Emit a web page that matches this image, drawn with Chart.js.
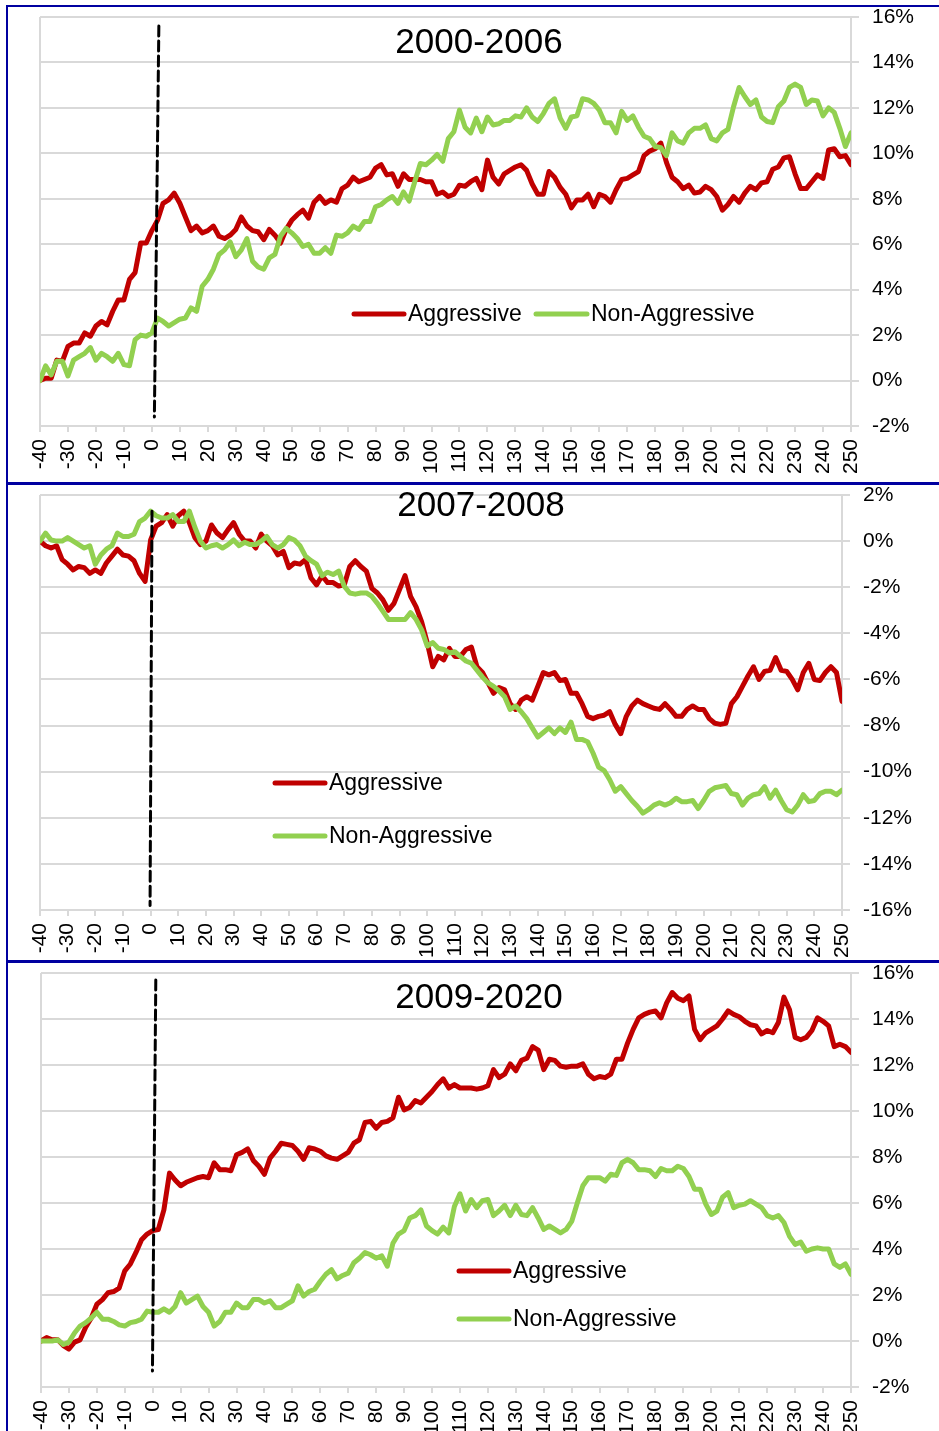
<!DOCTYPE html>
<html>
<head>
<meta charset="utf-8">
<script src="https://cdn.jsdelivr.net/npm/chart.js@4.4.1/dist/chart.umd.min.js"></script>
<style>
  body { margin: 0; background: #fff; }
  #page { position: relative; width: 939px; height: 1431px; overflow: hidden; background: #fff; }
  canvas { position: absolute; left: 0; }
  .frame { position: absolute; background: #0000a0; z-index: 5; }
</style>
</head>
<body>
<div id="page">
  <canvas id="c1" width="939" height="482" style="top:0px"></canvas>
  <canvas id="c2" width="939" height="490" style="top:470px"></canvas>
  <canvas id="c3" width="939" height="483" style="top:948px"></canvas>
  <div class="frame" style="left:6px;top:5px;width:2px;height:1426px"></div>
  <div class="frame" style="left:6px;top:5px;width:933px;height:2px"></div>
  <div class="frame" style="left:6px;top:482px;width:933px;height:3px"></div>
  <div class="frame" style="left:6px;top:960px;width:933px;height:3px"></div>
</div>
<script>
// days relative to the event (every 2nd day)
const days = [-40, -38, -36, -34, -32, -30, -28, -26, -24, -22, -20, -18, -16, -14, -12, -10, -8, -6, -4, -2,
  0, 2, 4, 6, 8, 10, 12, 14, 16, 18, 20, 22, 24, 26, 28, 30, 32, 34, 36, 38,
  40, 42, 44, 46, 48, 50, 52, 54, 56, 58, 60, 62, 64, 66, 68, 70, 72, 74, 76, 78,
  80, 82, 84, 86, 88, 90, 92, 94, 96, 98, 100, 102, 104, 106, 108, 110, 112, 114, 116, 118,
  120, 122, 124, 126, 128, 130, 132, 134, 136, 138, 140, 142, 144, 146, 148, 150, 152, 154, 156, 158,
  160, 162, 164, 166, 168, 170, 172, 174, 176, 178, 180, 182, 184, 186, 188, 190, 192, 194, 196, 198,
  200, 202, 204, 206, 208, 210, 212, 214, 216, 218, 220, 222, 224, 226, 228, 230, 232, 234, 236, 238,
  240, 242, 244, 246, 248, 250];

// 2000-2006
const agg0006 = [0, 0.1, 0.1, 0.9, 0.85, 1.5, 1.65, 1.65, 2.1, 1.95, 2.4, 2.6, 2.45, 3.05, 3.55, 3.55, 4.45, 4.75, 6.05, 6.05,
  6.6, 7.05, 7.8, 7.95, 8.25, 7.8, 7.2, 6.6, 6.8, 6.5, 6.6, 6.8, 6.35, 6.25, 6.4, 6.65, 7.2, 6.8, 6.6, 6.55,
  6.2, 6.65, 6.4, 6.05, 6.65, 7.05, 7.3, 7.5, 7.15, 7.85, 8.1, 7.8, 7.95, 7.85, 8.45, 8.6, 8.95, 8.75, 8.85, 8.95,
  9.35, 9.5, 9.05, 9.1, 8.55, 9.1, 8.85, 8.85, 8.85, 8.75, 8.75, 8.2, 8.3, 8.1, 8.2, 8.6, 8.55, 8.75, 8.9, 8.4,
  9.7, 8.95, 8.65, 9.1, 9.25, 9.4, 9.5, 9.25, 8.65, 8.2, 8.2, 9.2, 8.95, 8.5, 8.2, 7.6, 7.95, 7.95, 8.2, 7.65,
  8.2, 8.1, 7.85, 8.4, 8.85, 8.9, 9.05, 9.2, 9.9, 10.1, 10.2, 10.45, 9.6, 8.95, 8.75, 8.45, 8.6, 8.25, 8.3, 8.55,
  8.4, 8.1, 7.5, 7.75, 8.1, 7.85, 8.25, 8.55, 8.4, 8.7, 8.75, 9.3, 9.4, 9.8, 9.85, 9.1, 8.45, 8.45, 8.75, 9.05,
  8.9, 10.15, 10.2, 9.85, 9.9, 9.5];
const non0006 = [0, 0.65, 0.25, 0.85, 0.85, 0.2, 0.9, 1.05, 1.2, 1.45, 0.9, 1.2, 1.05, 0.85, 1.2, 0.7, 0.65, 1.8, 2.0, 1.95,
  2.1, 2.75, 2.6, 2.4, 2.55, 2.7, 2.75, 3.2, 3.05, 4.15, 4.45, 4.9, 5.55, 5.75, 6.1, 5.45, 5.75, 6.25, 5.25, 5.0,
  4.9, 5.4, 5.55, 6.35, 6.7, 6.5, 6.25, 5.9, 6.0, 5.6, 5.6, 5.85, 5.6, 6.4, 6.35, 6.5, 6.8, 6.65, 7.0, 7.0,
  7.65, 7.75, 7.95, 8.1, 7.8, 8.3, 7.9, 8.75, 9.55, 9.5, 9.7, 9.95, 9.65, 10.65, 10.95, 11.9, 11.15, 10.9, 11.55, 10.95,
  11.6, 11.25, 11.3, 11.45, 11.45, 11.65, 11.6, 12.0, 11.6, 11.4, 11.75, 12.2, 12.4, 11.55, 11.1, 11.6, 11.65, 12.4, 12.35, 12.2,
  11.9, 11.35, 11.35, 10.9, 11.85, 11.45, 11.65, 11.15, 10.75, 10.65, 10.3, 10.25, 9.9, 10.9, 10.55, 10.45, 10.9, 11.1, 11.1, 11.25,
  10.65, 10.55, 10.9, 11.05, 12.05, 12.9, 12.5, 12.15, 12.35, 11.6, 11.4, 11.35, 12.05, 12.3, 12.9, 13.05, 12.9, 12.15, 12.35, 12.3,
  11.65, 12.0, 11.8, 11.1, 10.3, 10.9];

// 2007-2008
const agg0708 = [0, -0.2, -0.3, -0.2, -0.8, -1.0, -1.25, -1.1, -1.15, -1.4, -1.25, -1.4, -0.95, -0.65, -0.35, -0.6, -0.65, -0.85, -1.4, -1.75,
  0.05, 0.65, 0.8, 1.15, 0.65, 1.1, 1.3, 0.8, 0.15, -0.15, 0, 0.7, 0.35, 0.15, 0.5, 0.8, 0.3, 0, 0, -0.3,
  0.3, 0, -0.2, -0.6, -0.45, -1.15, -0.95, -1.0, -0.8, -1.6, -1.9, -1.5, -1.8, -1.8, -1.95, -1.9, -1.1, -0.85, -1.1, -1.3,
  -2.05, -2.25, -2.55, -3.0, -2.7, -2.1, -1.5, -2.4, -2.85, -3.5, -4.4, -5.45, -5.0, -5.15, -4.65, -5.0, -5.0, -4.7, -4.6, -5.45,
  -5.7, -6.15, -6.6, -6.35, -6.45, -7.05, -7.3, -6.9, -6.75, -6.9, -6.3, -5.7, -5.8, -5.7, -6.05, -6.0, -6.6, -6.6, -7.05, -7.6,
  -7.7, -7.6, -7.55, -7.4, -7.95, -8.35, -7.6, -7.15, -6.9, -7.05, -7.15, -7.25, -7.3, -7.05, -7.3, -7.6, -7.6, -7.3, -7.15, -7.3,
  -7.3, -7.7, -7.9, -7.95, -7.9, -7.05, -6.75, -6.3, -5.85, -5.45, -6.0, -5.65, -5.6, -5.05, -5.6, -5.65, -6.0, -6.45, -5.7, -5.3,
  -6.0, -6.05, -5.7, -5.45, -5.7, -6.95];
const non0708 = [0, 0.35, 0.05, 0, 0, 0.15, 0, -0.15, -0.3, -0.2, -1.0, -0.6, -0.35, -0.2, 0.35, 0.2, 0.2, 0.3, 0.85, 1.0,
  1.3, 1.1, 1.0, 1.0, 1.15, 0.85, 0.85, 1.3, 0.6, 0, -0.3, -0.2, -0.15, -0.3, -0.15, 0.05, -0.2, -0.05, -0.15, -0.15,
  0, 0.2, -0.15, -0.3, -0.15, 0.15, 0.05, -0.2, -0.65, -0.85, -1.0, -1.5, -1.35, -1.45, -1.3, -1.95, -2.25, -2.3, -2.25, -2.25,
  -2.4, -2.7, -3.05, -3.4, -3.4, -3.4, -3.4, -3.1, -3.4, -3.85, -4.55, -4.4, -4.65, -4.7, -4.85, -4.8, -5.0, -5.2, -5.3, -5.6,
  -5.9, -6.15, -6.3, -6.5, -6.75, -7.3, -7.15, -7.4, -7.7, -8.1, -8.5, -8.3, -8.1, -8.35, -8.1, -8.3, -7.85, -8.6, -8.6, -8.7,
  -9.2, -9.8, -9.95, -10.35, -10.85, -10.65, -10.95, -11.25, -11.5, -11.8, -11.65, -11.45, -11.35, -11.45, -11.35, -11.15, -11.3, -11.3, -11.25, -11.6,
  -11.25, -10.85, -10.7, -10.65, -10.6, -10.95, -11.0, -11.45, -11.15, -11.0, -10.95, -10.65, -11.15, -10.8, -11.25, -11.65, -11.75, -11.45, -11.0, -11.3,
  -11.25, -10.95, -10.85, -10.85, -11.0, -10.8];

// 2009-2020
const agg0920 = [0, 0.15, 0.05, 0.05, -0.2, -0.35, -0.05, 0.05, 0.6, 1.0, 1.6, 1.8, 2.1, 2.15, 2.3, 3.05, 3.35, 3.85, 4.4, 4.65,
  4.8, 4.85, 5.7, 7.3, 7.0, 6.75, 6.9, 7.0, 7.1, 7.15, 7.1, 7.75, 7.45, 7.45, 7.4, 8.1, 8.2, 8.35, 7.85, 7.6,
  7.25, 7.95, 8.25, 8.6, 8.55, 8.5, 8.25, 7.9, 8.4, 8.35, 8.25, 8.05, 7.95, 7.9, 8.05, 8.2, 8.6, 8.75, 9.5, 9.55,
  9.25, 9.5, 9.55, 9.7, 10.6, 10.05, 10.15, 10.45, 10.35, 10.6, 10.85, 11.15, 11.4, 11.0, 11.15, 11.0, 11.0, 11.0, 10.95, 11.0,
  11.1, 11.8, 11.45, 11.6, 12.05, 11.75, 12.2, 12.3, 12.8, 12.65, 11.8, 12.25, 12.2, 11.95, 11.9, 11.95, 11.95, 12.05, 11.6, 11.4,
  11.5, 11.45, 11.6, 12.25, 12.25, 12.95, 13.55, 14.05, 14.2, 14.3, 14.35, 14.05, 14.7, 15.15, 14.9, 14.8, 15.0, 13.55, 13.1, 13.4,
  13.55, 13.7, 14.0, 14.35, 14.2, 14.1, 13.9, 13.75, 13.7, 13.35, 13.5, 13.4, 13.85, 14.95, 14.4, 13.2, 13.1, 13.2, 13.5, 14.05,
  13.9, 13.7, 12.8, 12.9, 12.8, 12.55];
const non0920 = [0, 0, 0, 0.05, -0.15, -0.05, 0.35, 0.65, 0.8, 1.0, 1.25, 0.95, 0.95, 0.85, 0.7, 0.65, 0.8, 0.85, 0.95, 1.3,
  1.25, 1.25, 1.4, 1.25, 1.5, 2.1, 1.65, 1.8, 1.95, 1.5, 1.25, 0.65, 0.85, 1.25, 1.25, 1.65, 1.45, 1.45, 1.8, 1.8,
  1.65, 1.75, 1.45, 1.45, 1.6, 1.75, 2.4, 1.95, 2.15, 2.25, 2.6, 2.9, 3.1, 2.7, 2.85, 2.95, 3.4, 3.6, 3.85, 3.75,
  3.6, 3.7, 3.25, 4.25, 4.65, 4.8, 5.35, 5.45, 5.7, 5.0, 4.8, 4.65, 4.95, 4.7, 5.85, 6.4, 5.65, 6.15, 5.8, 6.1,
  6.15, 5.45, 5.65, 5.9, 5.45, 5.9, 5.5, 5.45, 5.8, 5.35, 4.85, 5.0, 4.85, 4.7, 4.85, 5.2, 6.0, 6.75, 7.1, 7.1,
  7.1, 6.95, 7.25, 7.2, 7.75, 7.9, 7.75, 7.45, 7.45, 7.4, 7.15, 7.5, 7.4, 7.4, 7.6, 7.5, 7.15, 6.6, 6.6, 5.95,
  5.5, 5.65, 6.25, 6.45, 5.8, 5.9, 5.95, 6.1, 5.95, 5.8, 5.45, 5.35, 5.45, 5.15, 4.55, 4.2, 4.3, 3.9, 4.0, 4.05,
  4.0, 4.0, 3.35, 3.2, 3.35, 2.9];

const FONT = '"Liberation Sans", Arial, sans-serif';
const RED = '#c00000';
const GREEN = '#92d050';
const GRID = '#d9d9d9';

Chart.defaults.font.family = FONT;
Chart.defaults.color = '#000';

// title and in-plot legend, drawn on top of the lines
const panelText = {
  id: 'panelText',
  afterDatasetsDraw(chart, args, opts) {
    const ctx = chart.ctx;
    ctx.save();
    ctx.fillStyle = '#000';
    ctx.textBaseline = 'middle';
    ctx.textAlign = 'center';
    ctx.font = '35px ' + FONT;
    ctx.fillText(opts.title, opts.titleX, opts.titleY);
    ctx.textAlign = 'left';
    ctx.font = '23px ' + FONT;
    opts.legend.forEach(item => {
      const ds = chart.data.datasets[item.ds];
      ctx.strokeStyle = ds.borderColor;
      ctx.lineWidth = 5;
      ctx.lineCap = 'round';
      ctx.beginPath();
      ctx.moveTo(item.x1, item.y);
      ctx.lineTo(item.x2, item.y);
      ctx.stroke();
      ctx.fillText(ds.label, item.x2 + 4, item.y + 1);
    });
    ctx.restore();
  }
};

function series(ys) {
  return days.map((d, i) => ({ x: d, y: ys[i] }));
}

function makePanel(id, p) {
  return new Chart(document.getElementById(id), {
    type: 'line',
    data: {
      datasets: [
        { label: 'Aggressive', data: series(p.agg), borderColor: RED, borderWidth: 5, order: 3 },
        { label: 'Non-Aggressive', data: series(p.non), borderColor: GREEN, borderWidth: 5, order: 2 },
        { label: 'event', data: p.event, borderColor: '#000', borderWidth: 3, borderDash: [10, 5], order: 1 }
      ]
    },
    options: {
      responsive: false,
      animation: false,
      layout: { padding: { top: p.padTop, left: p.padLeft, right: 0, bottom: 0 } },
      elements: {
        point: { radius: 0 },
        line: { tension: 0, borderJoinStyle: 'round', borderCapStyle: 'round' }
      },
      plugins: {
        legend: { display: false },
        tooltip: { enabled: false },
        panelText: { title: p.title, titleX: p.titleX, titleY: p.titleY, legend: p.legend }
      },
      scales: {
        x: {
          type: 'linear',
          min: -40,
          max: 250,
          afterFit: s => { s.height = p.axisH; },
          ticks: { stepSize: 10, autoSkip: false, minRotation: 90, maxRotation: 90, padding: 7, font: { size: 21 }, color: '#000' },
          grid: {
            color: c => (c.tick && (c.tick.value === -40 || c.tick.value === 250)) ? GRID : 'rgba(0,0,0,0)',
            tickColor: GRID,
            lineWidth: 2,
            tickLength: 6
          },
          border: { display: true, color: GRID, width: 2 }
        },
        y: {
          position: 'right',
          min: p.yMin,
          max: p.yMax,
          afterFit: s => { s.width = p.axisW; s.paddingTop = 0; s.paddingBottom = 0; },
          ticks: { stepSize: 2, padding: 13, font: { size: 21 }, color: '#000', callback: v => v + '%' },
          grid: { color: GRID, lineWidth: 2, tickLength: 8 },
          border: { display: true, color: GRID, width: 2 }
        }
      }
    },
    plugins: [panelText]
  });
}

makePanel('c1', {
  agg: agg0006, non: non0006,
  event: [{ x: 2.5, y: 15.6 }, { x: 0.9, y: -1.6 }],
  yMin: -2, yMax: 16, padTop: 17, padLeft: 40, axisW: 88, axisH: 56,
  title: '2000-2006', titleX: 479, titleY: 43,
  legend: [{ ds: 0, x1: 354, x2: 404, y: 314 }, { ds: 1, x1: 536, x2: 587, y: 314 }]
});

makePanel('c2', {
  agg: agg0708, non: non0708,
  event: [{ x: 0.5, y: 1.3 }, { x: -0.2, y: -15.8 }],
  yMin: -16, yMax: 2, padTop: 25, padLeft: 40, axisW: 97, axisH: 50,
  title: '2007-2008', titleX: 481, titleY: 36,
  legend: [{ ds: 0, x1: 275, x2: 325, y: 313 }, { ds: 1, x1: 275, x2: 325, y: 366 }]
});

makePanel('c3', {
  agg: agg0920, non: non0920,
  event: [{ x: 1.1, y: 15.7 }, { x: -0.1, y: -1.3 }],
  yMin: -2, yMax: 16, padTop: 25, padLeft: 41, axisW: 88, axisH: 44,
  title: '2009-2020', titleX: 479, titleY: 50,
  legend: [{ ds: 0, x1: 459, x2: 509, y: 323 }, { ds: 1, x1: 459, x2: 509, y: 371 }]
});
</script>
</body>
</html>
